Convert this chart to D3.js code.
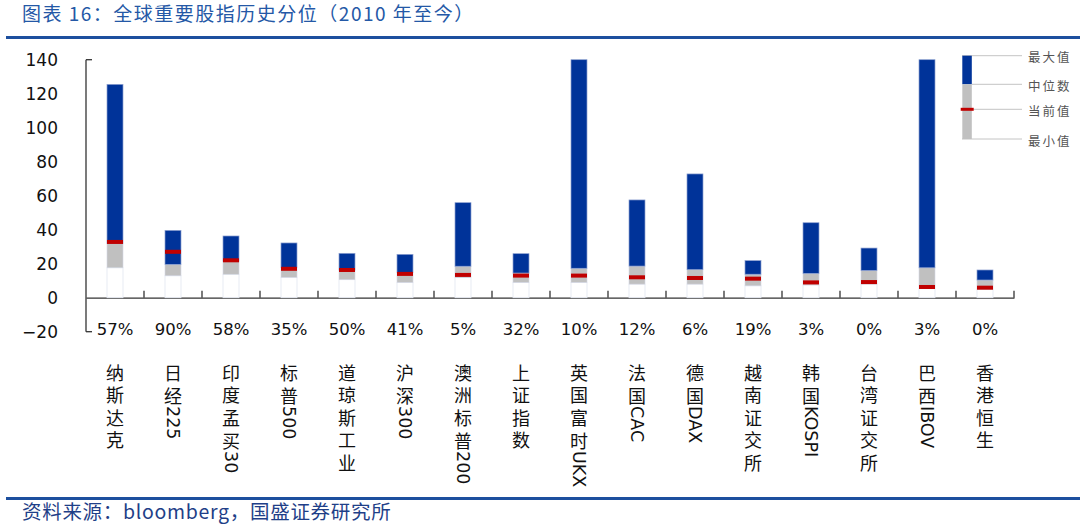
<!DOCTYPE html>
<html>
<head>
<meta charset="utf-8">
<script src="https://cdn.jsdelivr.net/npm/d3@7/dist/d3.min.js"></script>
<style>
html,body{margin:0;padding:0;background:#fff;}
svg{display:block;}
</style>
</head>
<body>
<svg id="chart" width="1080" height="527"></svg>
<script>
const categories = ["纳斯达克","日经225","印度孟买30","标普500","道琼斯工业","沪深300","澳洲标普200","上证指数","英国富时UKX","法国CAC","德国DAX","越南证交所","韩国KOSPI","台湾证交所","巴西IBOV","香港恒生"];
const percentiles = ["57%","90%","58%","35%","50%","41%","5%","32%","10%","12%","6%","19%","3%","0%","3%","0%"];
const maxVals = [125.5, 39.6, 36.3, 32.2, 26.1, 25.5, 55.9, 25.9, 140, 57.5, 72.8, 21.8, 44.1, 29.2, 140, 16.3];
const medianVals = [32, 19.6, 21.5, 17.8, 16.3, 14.8, 18.5, 14.5, 17.3, 18.6, 16.5, 13.8, 14.3, 16, 17.6, 10.4];
const currentVals = [32.8, 27, 22, 17, 16.3, 14, 13.4, 13, 13, 12, 11.6, 11.2, 9, 9.2, 6.3, 5.9];
const minVals = [17.6, 12.9, 13.8, 12, 10.6, 9, 11.8, 9, 9, 8, 8, 7, 7.5, 8, 5.3, 5];
const yTicks = [-20, 0, 20, 40, 60, 80, 100, 120, 140];
const legendLabels = ["最大值","中位数","当前值","最小值"];

const BLUE = "#003399", GREY = "#c0c0c0", RED = "#c00000";
const svg = d3.select("#chart");

// Title & rules
svg.append("text").attr("x", 22).attr("y", 21)
  .attr("font-family", "Noto Sans CJK SC").attr("font-size", 19).attr("letter-spacing", 1.5)
  .attr("fill", "#2458a6").text("图表 16：全球重要股指历史分位（2010 年至今）");
svg.append("rect").attr("x", 6).attr("y", 36).attr("width", 1074).attr("height", 3).attr("fill", "#1c4f9e");
svg.append("rect").attr("x", 6).attr("y", 497).attr("width", 1074).attr("height", 3).attr("fill", "#1c4f9e");
svg.append("text").attr("x", 22).attr("y", 519)
  .attr("font-family", "Noto Sans CJK SC").attr("font-size", 19.5).attr("letter-spacing", 0.7)
  .attr("fill", "#1f3f88").text("资料来源：bloomberg，国盛证券研究所");

const x = d3.scaleBand().domain(categories).range([86, 1014]).padding(0);
const y = d3.scaleLinear().domain([-20, 140]).range([331.7, 59.7]);
const bw = 16;
const bx = d => x(d) + x.bandwidth() / 2 - bw / 2;

// Y axis
const yAxis = d3.axisLeft(y).tickValues(yTicks).tickSize(0).tickPadding(0);
const gy = svg.append("g").attr("transform", "translate(58,0)").call(yAxis);
gy.select(".domain").remove();
gy.selectAll("text").attr("font-family", "DejaVu Sans").attr("font-size", 17).attr("fill", "#111").attr("dy", "0.35em");

svg.append("line").attr("x1", 86).attr("x2", 86).attr("y1", y(140)).attr("y2", y(-20)).attr("stroke", "#333").attr("stroke-width", 1.3);
[140, -20].forEach(v => svg.append("line").attr("x1", 86).attr("x2", 92).attr("y1", y(v)).attr("y2", y(v)).attr("stroke", "#333").attr("stroke-width", 1.3));

// X axis at zero
const xAxis = d3.axisBottom(x).tickValues([]).tickSizeOuter(0);
const gx = svg.append("g").attr("transform", `translate(0,${y(0)})`).call(xAxis);
gx.select(".domain").attr("stroke", "#333").attr("stroke-width", 1.3);
categories.forEach((c, i) => {
  const xe = x(c) + x.bandwidth();
  svg.append("line").attr("x1", xe).attr("x2", xe).attr("y1", y(0)).attr("y2", y(0) - 7).attr("stroke", "#333").attr("stroke-width", 1.3);
});

// Bars
const g = svg.append("g");
categories.forEach((c, i) => {
  const x0 = bx(c);
  g.append("rect").attr("x", x0).attr("width", bw).attr("y", y(minVals[i])).attr("height", y(0) - y(minVals[i]))
    .attr("fill", "#fff").attr("stroke", "#e2e6f0").attr("stroke-width", 0.8);
  g.append("rect").attr("x", x0).attr("width", bw).attr("y", y(medianVals[i])).attr("height", y(minVals[i]) - y(medianVals[i]))
    .attr("fill", GREY).attr("stroke", "#d4d8e4").attr("stroke-width", 0.6);
  g.append("rect").attr("x", x0).attr("width", bw).attr("y", y(maxVals[i])).attr("height", y(medianVals[i]) - y(maxVals[i]))
    .attr("fill", BLUE).attr("stroke", "#8da0d0").attr("stroke-width", 0.7);
  g.append("rect").attr("x", x0).attr("width", bw).attr("y", y(currentVals[i]) - 2).attr("height", 4).attr("fill", RED);
});

// Percent labels
categories.forEach((c, i) => {
  svg.append("text").attr("x", x(c) + x.bandwidth() / 2).attr("y", 335)
    .attr("text-anchor", "middle").attr("font-family", "DejaVu Sans").attr("font-size", 16.5)
    .attr("fill", "#111").text(percentiles[i]);
});

// Vertical category labels (one text per category, vertical writing mode)
categories.forEach((c, i) => {
  const cx = x(c) + x.bandwidth() / 2;
  const runs = c.match(/[\u4e00-\u9fff]+|[A-Za-z0-9]+/g);
  const t = svg.append("text").attr("x", cx).attr("y", 364)
    .style("writing-mode", "vertical-rl").style("text-orientation", "mixed")
    .attr("font-family", "Noto Sans CJK SC").attr("font-size", 18).attr("fill", "#111");
  runs.forEach((r, k) => {
    if (/[\u4e00-\u9fff]/.test(r)) {
      const followedByLatin = k < runs.length - 1;
      if (followedByLatin && r.length > 1) {
        t.append("tspan").attr("letter-spacing", 4.5).text(r.slice(0, -1));
        t.append("tspan").attr("letter-spacing", 1.5).text(r.slice(-1));
      } else {
        t.append("tspan").attr("letter-spacing", followedByLatin ? 1.5 : 4.5).text(r);
      }
    } else {
      t.append("tspan").attr("font-family", "DejaVu Sans").attr("font-size", 17.5).attr("letter-spacing", 0).text(r);
    }
  });
});

// Legend
const lg = svg.append("g");
const ly = [55.7, 84.3, 109.3, 139];
ly.forEach((v, k) => {
  lg.append("line").attr("x1", k === 0 || k === 3 ? 962 : 972).attr("x2", 1022).attr("y1", v).attr("y2", v)
    .attr("stroke", "#c4c4c4").attr("stroke-width", 1);
  lg.append("text").attr("x", 1028).attr("y", v + 1).attr("dominant-baseline", "central")
    .attr("font-family", "Noto Sans CJK SC").attr("font-size", 12.5).attr("letter-spacing", 2)
    .attr("fill", "#555").text(legendLabels[k]);
});
lg.append("rect").attr("x", 962.3).attr("width", 9.5).attr("y", ly[0]).attr("height", ly[1] - ly[0]).attr("fill", BLUE);
lg.append("rect").attr("x", 962.3).attr("width", 9.5).attr("y", ly[1]).attr("height", ly[3] - ly[1]).attr("fill", GREY);
lg.append("rect").attr("x", 960.7).attr("width", 13).attr("y", ly[2] - 1.5).attr("height", 3).attr("fill", RED);
</script>
</body>
</html>
